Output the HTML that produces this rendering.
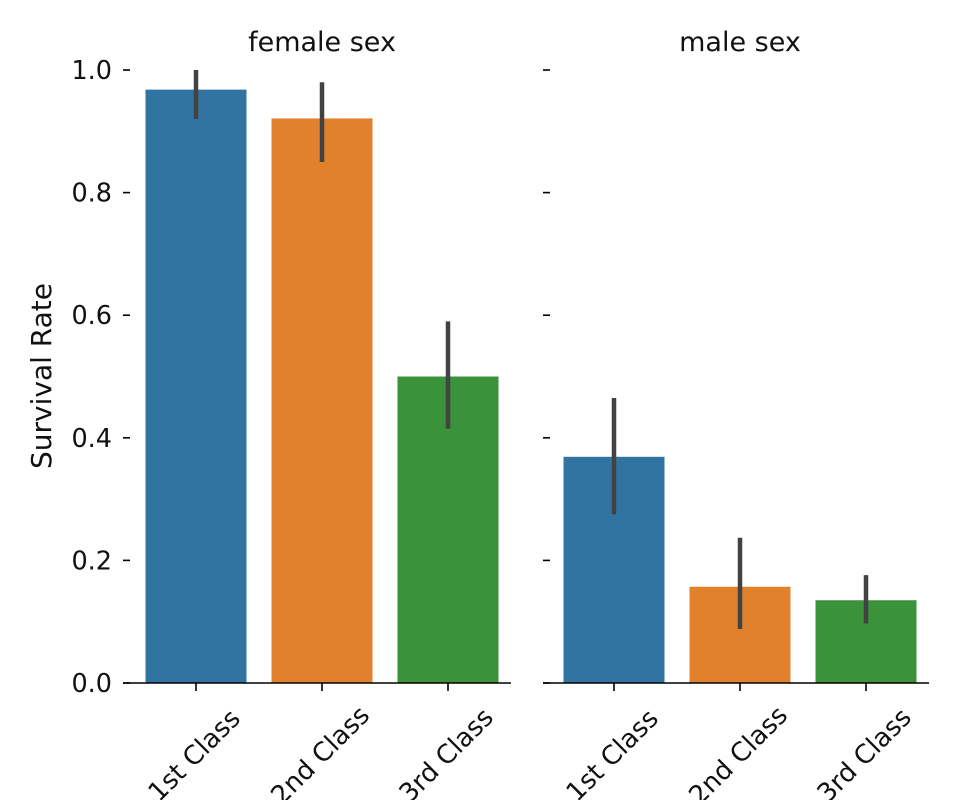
<!DOCTYPE html>
<html><head><meta charset="utf-8"><style>
body{margin:0;background:#fff}
svg{font-family:"DejaVu Sans","Liberation Sans",sans-serif}
</style></head><body>
<svg id="c" width="960" height="800" viewBox="0 0 960 800"></svg>
<script>
const categories=["1st Class","2nd Class","3rd Class"];
const panels=["female sex","male sex"];
const femaleVals=[0.968,0.921,0.5];
const femaleLo=[0.92,0.85,0.415];
const femaleHi=[1.0,0.98,0.59];
const maleVals=[0.369,0.157,0.135];
const maleLo=[0.275,0.088,0.097];
const maleHi=[0.465,0.237,0.176];
const yTicks=[0,0.2,0.4,0.6,0.8,1.0];
const colors=["#3274a1","#e1812c","#3a923a"];
const NS="http://www.w3.org/2000/svg";
const svg=document.getElementById('c');
function mk(t,a,p){const e=document.createElementNS(NS,t);for(const k in a)e.setAttribute(k,a[k]);(p||svg).appendChild(e);return e;}
const y=v=>683-v*613;
const axes=[{x0:133,vals:femaleVals,lo:femaleLo,hi:femaleHi,labels:true,spineX:123},{x0:551,vals:maleVals,lo:maleLo,hi:maleHi,labels:false,spineX:543}];
const bw=126;
axes.forEach((ax,pi)=>{
  const g=mk('g',{});
  
  
  const x=i=>ax.x0+bw*i+bw/2;
  const t=mk('text',{x:ax.x0+bw*1.5,y:51,'text-anchor':'middle','font-size':27,fill:'#111'},g);
  t.textContent=panels[pi];
  
  
  ax.vals.forEach((v,i)=>{
    const r=mk('rect',{x:x(i)-50.5,y:y(v),width:101,height:y(0)-y(v),fill:colors[i]},g);
    
    
    const e=mk('line',{x1:x(i),x2:x(i),y1:y(ax.lo[i]),y2:y(ax.hi[i]),stroke:'#424242','stroke-width':4.5},g);
    
    
    mk('line',{x1:x(i),x2:x(i),y1:683,y2:691,stroke:'#000','stroke-width':1.6},g);
    const cx=x(i)-2, cy=755;
    const lt=mk('text',{x:cx,y:cy+9,'text-anchor':'middle','font-size':26,fill:'#111',transform:`rotate(-45 ${cx} ${cy})`},g);
    lt.textContent=categories[i];
    
    
  });
  mk('line',{x1:ax.spineX,x2:ax.x0+bw*3,y1:683,y2:683,stroke:'#000','stroke-width':1.6},g);
  yTicks.forEach(v=>{
    mk('line',{x1:ax.spineX,x2:ax.spineX+7,y1:y(v),y2:y(v),stroke:'#000','stroke-width':1.6},g);
    if(ax.labels){
      const tt=mk('text',{x:ax.spineX-11,y:y(v)+9,'text-anchor':'end','font-size':25.5,fill:'#111'},g);
      tt.textContent=v.toFixed(1);
      
      
    }
  });
});
const yl=mk('text',{x:51,y:376,'text-anchor':'middle','font-size':28,fill:'#111',transform:'rotate(-90 51 376)'});
yl.textContent='Survival Rate';


</script>
</body></html>
